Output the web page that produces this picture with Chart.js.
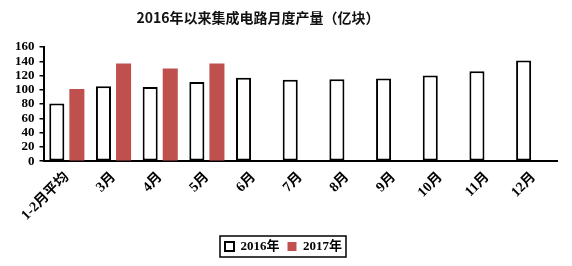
<!DOCTYPE html>
<html>
<head>
<meta charset="utf-8">
<script src="https://cdn.jsdelivr.net/npm/chart.js@4"></script>
<style>
  html, body { margin: 0; padding: 0; background: #fff; }
  #wrap { position: relative; width: 572px; height: 266px; }
  #title { position: absolute; left: 0; top: 7px; width: 516px; text-align: center;
           font: bold 14px 'Noto Sans CJK SC', sans-serif; color: #111; }
  canvas { position: absolute; left: 0; top: 0; }
</style>
</head>
<body>
<div id="wrap">
  <canvas id="c" width="572" height="266"></canvas>
  <div id="title">2016年以来集成电路月度产量（亿块）</div>
</div>
<script>
const categories = ['1-2月平均', '3月', '4月', '5月', '6月', '7月', '8月', '9月', '10月', '11月', '12月'];
const seriesNames = ['2016年', '2017年'];
const values2016 = [81, 105, 104, 111, 117, 114, 115, 116, 120, 126, 141];
const values2017 = [101, 137, 130, 137, null, null, null, null, null, null, null];
const yTicks = [0, 20, 40, 60, 80, 100, 120, 140, 160];

const serifFamily = "'Liberation Serif', 'Noto Sans CJK SC', serif";

const legendBorder = {
  id: 'legendBorder',
  afterDraw(chart) {
    const lg = chart.legend;
    if (!lg || !lg.legendHitBoxes || !lg.legendHitBoxes.length) return;
    let minX = Infinity, maxX = -Infinity, minY = Infinity, maxY = -Infinity;
    lg.legendHitBoxes.forEach(b => {
      minX = Math.min(minX, b.left); maxX = Math.max(maxX, b.left + b.width);
      minY = Math.min(minY, b.top); maxY = Math.max(maxY, b.top + b.height);
    });
    const ctx = chart.ctx;
    ctx.save();
    ctx.strokeStyle = '#000';
    ctx.lineWidth = 1.5;
    ctx.strokeRect(minX - 5, minY - 4, (maxX - minX) + 9, (maxY - minY) + 8);
    ctx.restore();
  }
};

new Chart(document.getElementById('c'), {
  type: 'bar',
  data: {
    labels: categories,
    datasets: [
      { label: seriesNames[0], data: values2016, backgroundColor: '#ffffff', borderColor: '#000000', borderWidth: 2 },
      { label: seriesNames[1], data: values2017, backgroundColor: '#c0504d', borderColor: '#c0504d', borderWidth: 0 }
    ]
  },
  options: {
    responsive: false,
    animation: false,
    devicePixelRatio: 1,
    layout: { padding: { top: 47, left: 10, right: 15, bottom: 3 } },
    datasets: { bar: { categoryPercentage: 0.86, barPercentage: 0.75, borderSkipped: false } },
    scales: {
      x: {
        grid: { display: true, drawOnChartArea: false, drawTicks: false },
        border: { display: true, color: '#000', width: 2 },
        ticks: { color: '#000', font: { family: serifFamily, size: 14, weight: 'bold' }, minRotation: 45, maxRotation: 45, padding: 8, autoSkip: false }
      },
      y: {
        min: 0, max: 160,
        afterBuildTicks(axis) { axis.ticks = yTicks.map(v => ({ value: v })); },
        grid: { display: true, drawOnChartArea: false, drawTicks: true, tickLength: 4, color: '#000', lineWidth: 1.5 },
        border: { display: true, color: '#000', width: 2 },
        ticks: { color: '#000', font: { family: serifFamily, size: 13, weight: 'bold' }, padding: 5, autoSkip: false }
      }
    },
    plugins: {
      title: { display: false },
      tooltip: { enabled: false },
      legend: {
        position: 'bottom',
        labels: {
          color: '#000',
          font: { family: serifFamily, size: 13, weight: 'bold' },
          boxWidth: 9, boxHeight: 9, padding: 8
        }
      }
    }
  },
  plugins: [legendBorder]
});
</script>
</body>
</html>
